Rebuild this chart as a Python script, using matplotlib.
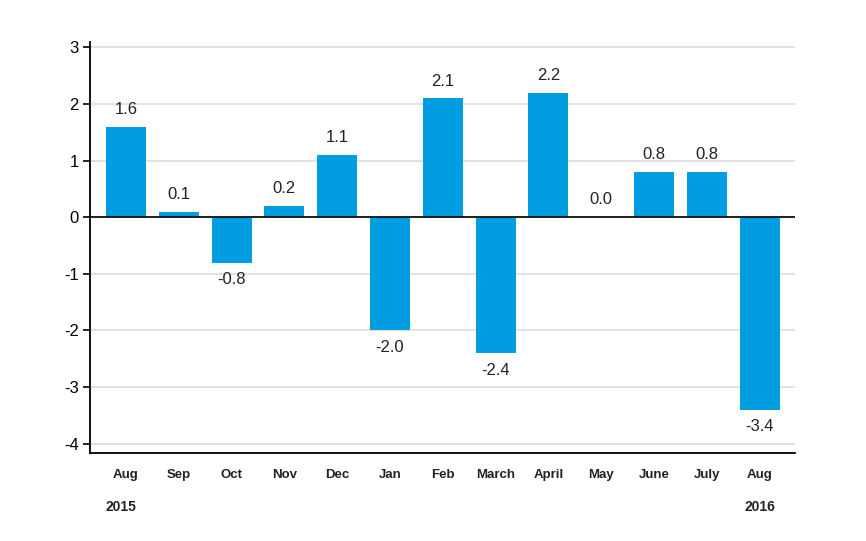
import matplotlib.pyplot as plt
import numpy as np

plt.rcParams['font.family'] = ['Liberation Sans', 'DejaVu Sans']
plt.rcParams['axes.unicode_minus'] = False

months = ["Aug", "Sep", "Oct", "Nov", "Dec", "Jan", "Feb", "March",
          "April", "May", "June", "July", "Aug"]
values = [1.6, 0.1, -0.8, 0.2, 1.1, -2.0, 2.1, -2.4, 2.2, 0.0, 0.8, 0.8, -3.4]
years = ["2015", "2016"]

fig = plt.figure(figsize=(8.66, 5.41), dpi=100)
ax = fig.add_axes([0.104, 0.163, 0.814, 0.759])

x = np.arange(len(months))
ax.bar(x, values, width=0.76, color="#009ee0", zorder=3)

for xi, v in zip(x, values):
    if v >= 0:
        ax.annotate(f"{v:.1f}", (xi, v), xytext=(0, 7), textcoords="offset points",
                    ha="center", va="bottom", fontsize=12, color="#222222")
    else:
        ax.annotate(f"{v:.1f}", (xi, v), xytext=(0, -7), textcoords="offset points",
                    ha="center", va="top", fontsize=12, color="#222222")

ax.axhline(0, color="black", lw=1.2, zorder=4)
ax.set_ylim(-4.16, 3.09)
ax.set_xlim(-0.68, 12.67)
ax.set_yticks(range(-4, 4))
ax.yaxis.grid(True, color="#dddddd", lw=1.2, zorder=0)
ax.spines["top"].set_visible(False)
ax.spines["right"].set_visible(False)
ax.spines["left"].set_linewidth(1.3)
ax.spines["bottom"].set_linewidth(1.3)
ax.tick_params(axis="y", length=5, width=1.2, labelsize=12, pad=3)
ax.tick_params(axis="x", length=0, pad=12)
ax.set_xticks(x)
ax.set_xticklabels(months, fontsize=9.5, fontweight="bold", color="#222222")

ax.text(-0.1, -0.131, years[0], transform=ax.get_xaxis_transform(), ha="center", va="center",
        fontsize=10, fontweight="bold", color="#222222")
ax.text(12, -0.131, years[1], transform=ax.get_xaxis_transform(), ha="center", va="center",
        fontsize=10, fontweight="bold", color="#222222")

fig.savefig("out.png", dpi=100)
